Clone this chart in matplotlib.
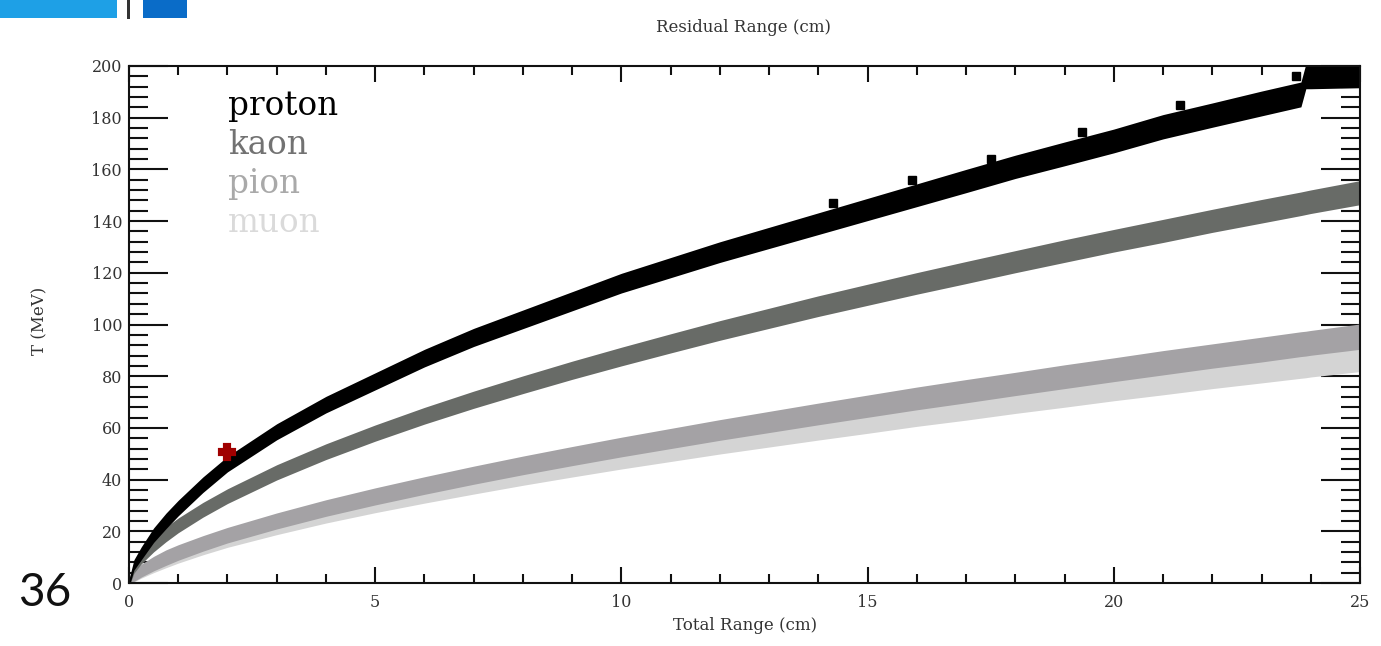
import matplotlib
matplotlib.use("Agg")
import matplotlib.pyplot as plt
from matplotlib.ticker import MultipleLocator
from matplotlib.patches import Rectangle

# Kinetic energy vs. total range for stopping particles
range_cm = [0, 0.1, 0.25, 0.5, 0.75, 1, 1.5, 2, 3, 4, 5, 6, 7, 8, 9, 10, 11, 12,
            13, 14, 15, 16, 17, 18, 19, 20, 21, 22, 23, 23.8, 23.9, 24, 25]
proton_T = [0, 7, 11.5, 18.5, 24, 29, 38, 46, 58.5, 69, 78, 87, 95, 102, 109, 116,
            122, 128, 133.5, 139, 144.5, 150, 155.5, 161, 166, 171, 176.5, 181,
            185.5, 189, 196, 196, 196.5]
kaon_T = [0, 5.7, 9.8, 14.7, 18.8, 22.3, 28.3, 33.6, 42.8, 50.8, 58, 64.7, 70.9,
          76.7, 82.3, 87.6, 92.7, 97.7, 102.4, 107.1, 111.5, 115.9, 120.1, 124.3,
          128.4, 132.4, 136.2, 140.1, 143.8, 146.7, 147.1, 147.5, 151]
pion_T = [0, 2.6, 4.8, 7.5, 9.8, 11.8, 15.3, 18.5, 24.0, 29.0, 33.5, 37.7, 41.7,
          45.5, 49.1, 52.6, 55.9, 59.2, 62.3, 65.4, 68.4, 71.4, 74.2, 77.0, 79.8,
          82.5, 85.2, 87.8, 90.3, 92.4, 92.6, 92.9, 95.3]
muon_T = [0, 2.4, 4.4, 6.8, 8.9, 10.7, 13.9, 16.8, 21.8, 26.4, 30.5, 34.3, 37.9,
          41.4, 44.7, 47.9, 50.9, 53.9, 56.7, 59.5, 62.2, 65.0, 67.5, 70.1, 72.6,
          75.1, 77.5, 79.9, 82.2, 84.0, 84.2, 84.5, 86.7]

# Spread of the bands (MeV, half-width) along the range grid
spread_T = [1.5, 2.0, 2.5, 2.8, 3.0, 3.0, 3.0, 3.0, 3.1, 3.2, 3.3, 3.4, 3.5, 3.6,
            3.7, 3.8, 3.9, 4.0, 4.1, 4.2, 4.3, 4.4, 4.5, 4.5, 4.6, 4.6, 4.7, 4.7,
            4.8, 4.8, 4.8, 4.8, 4.9]

# Stray proton entries above the main band
outlier_range = [14.3, 15.9, 17.5, 19.35, 21.35, 23.7]
outlier_T = [147, 156, 164, 174.5, 185, 196]

# Highlighted candidate
candidate_range = [2.0]
candidate_T = [50.5]

species = ["proton", "kaon", "pion", "muon"]
band_colors = {"proton": "#000000", "kaon": "#686b67", "pion": "#a4a2a5", "muon": "#d4d4d4"}
text_colors = {"proton": "#000000", "kaon": "#727272", "pion": "#a9a9a9", "muon": "#dadada"}
spread_scale = {"proton": 1.0, "kaon": 0.95, "pion": 1.0, "muon": 1.0}
series = {"proton": proton_T, "kaon": kaon_T, "pion": pion_T, "muon": muon_T}

W, H = 1381, 646
fig = plt.figure(figsize=(W / 100, H / 100), dpi=100)
ax = fig.add_axes([129 / W, 1 - 583 / H, (1360 - 129) / W, (583 - 66) / H])

serif = "DejaVu Serif"

# bands, lightest first so darker species sit on top
for name in ["muon", "pion", "kaon", "proton"]:
    t = series[name]
    k = spread_scale[name]
    lo = [v - k * s for v, s in zip(t, spread_T)]
    hi = [v + k * s for v, s in zip(t, spread_T)]
    ax.fill_between(range_cm, lo, hi, color=band_colors[name], linewidth=0, zorder=2)

ax.plot(outlier_range, outlier_T, "s", ms=6, color="black", zorder=3)
ax.plot(candidate_range, candidate_T, "P", ms=10, color="#a00000",
        markeredgecolor="#a00000", markeredgewidth=3, zorder=4)

ax.set_xlim(0, 25)
ax.set_ylim(0, 200)
ax.xaxis.set_major_locator(MultipleLocator(5))
ax.xaxis.set_minor_locator(MultipleLocator(1))
ax.yaxis.set_major_locator(MultipleLocator(20))
ax.yaxis.set_minor_locator(MultipleLocator(4))

for s in ax.spines.values():
    s.set_linewidth(1.5)
    s.set_color("#111111")

ax.tick_params(axis="both", which="both", direction="in", top=True, right=True,
               width=1.5, color="#111111", labelcolor="#333333", labelsize=11.5)
ax.tick_params(axis="y", which="major", length=28, pad=5)
ax.tick_params(axis="y", which="minor", length=14)
ax.tick_params(axis="x", which="major", length=11.5, pad=8)
ax.tick_params(axis="x", which="minor", length=6.5)
for lab in ax.get_xticklabels() + ax.get_yticklabels():
    lab.set_family(serif)

# species labels
baselines = [115, 154, 193, 232]
for name, yb in zip(species, baselines):
    ax.text((228 - 129) / 1231, (583 - yb) / 517, name, transform=ax.transAxes,
            family=serif, fontsize=23.5, color=text_colors[name], va="baseline",
            ha="left")

fig.text(745 / W, 1 - 625 / H, "Total Range (cm)", family=serif, fontsize=12,
         color="#333333", ha="center", va="center")
fig.text(743 / W, 1 - 28 / H, "Residual Range (cm)", family=serif, fontsize=12,
         color="#333333", ha="center", va="center")
fig.text(40 / W, 1 - 321 / H, "T (MeV)", family=serif, fontsize=12,
         color="#333333", ha="center", va="center", rotation=90)

# slide decorations
fig.patches.append(Rectangle((0, 1 - 18 / H), 117 / W, 18 / H, transform=fig.transFigure,
                             facecolor="#1ea0e6", edgecolor="none"))
fig.patches.append(Rectangle((127 / W, 1 - 19 / H), 3 / W, 19 / H, transform=fig.transFigure,
                             facecolor="#333333", edgecolor="none"))
fig.patches.append(Rectangle((143 / W, 1 - 18 / H), 44 / W, 18 / H, transform=fig.transFigure,
                             facecolor="#0a6cc8", edgecolor="none"))
fig.text(18 / W, 1 - 593 / H, "36", family="Lato", fontsize=33, color="#111111",
         ha="left", va="center")

fig.savefig("out.png", dpi=100, facecolor="white")
